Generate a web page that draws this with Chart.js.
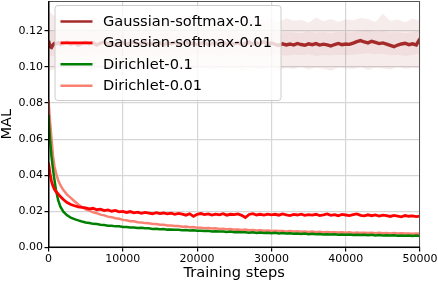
<!DOCTYPE html>
<html>
<head>
<meta charset="utf-8">
<script src="https://cdn.jsdelivr.net/npm/chart.js@4/dist/chart.umd.min.js"></script>
<style>
  html, body { margin: 0; padding: 0; background: #fff; }
  #wrap { width: 438px; height: 282px; }
</style>
</head>
<body>
<div id="wrap"><canvas id="myChart" width="438" height="282"></canvas></div>
<script>
// training steps for the curves (dense at the start)
const steps = [
  0, 200, 400, 600, 800, 1000, 1300, 1600, 2000, 2500, 3000, 3500, 4000, 4500, 5000,
  5500, 6000, 6500, 7000, 7500, 8000, 8500, 9000, 9500, 10000,
  10500, 11000, 11500, 12000, 12500, 13000, 13500, 14000, 14500, 15000,
  15500, 16000, 16500, 17000, 17500, 18000, 18500, 19000, 19500, 20000,
  20500, 21000, 21500, 22000, 22500, 23000, 23500, 24000, 24500, 25000,
  25500, 26000, 26500, 27000, 27500, 28000, 28500, 29000, 29500, 30000,
  30500, 31000, 31500, 32000, 32500, 33000, 33500, 34000, 34500, 35000,
  35500, 36000, 36500, 37000, 37500, 38000, 38500, 39000, 39500, 40000,
  40500, 41000, 41500, 42000, 42500, 43000, 43500, 44000, 44500, 45000,
  45500, 46000, 46500, 47000, 47500, 48000, 48500, 49000, 49500, 50000
]

const gaussSoftmax01 = [
  0.1145, 0.1112, 0.1108, 0.1122, 0.1130, 0.1127, 0.1135, 0.1124, 0.1131, 0.1138, 0.1126, 0.1133, 0.1121, 0.1130, 0.1136,
  0.1128, 0.1134, 0.1122, 0.1131, 0.1139, 0.1127, 0.1133, 0.1120, 0.1129, 0.1135,
  0.1126, 0.1132, 0.1140, 0.1124, 0.1130, 0.1136, 0.1123, 0.1131, 0.1127, 0.1134,
  0.1121, 0.1133, 0.1128, 0.1137, 0.1125, 0.1131, 0.1139, 0.1126, 0.1132, 0.1124,
  0.1130, 0.1136, 0.1122, 0.1129, 0.1134, 0.1127, 0.1138, 0.1125, 0.1131, 0.1128,
  0.1135, 0.1123, 0.1130, 0.1137, 0.1126, 0.1132, 0.1128, 0.1140, 0.1124, 0.1133,
  0.1125, 0.1119, 0.1128, 0.1122, 0.1127, 0.1121, 0.1130, 0.1124, 0.1120, 0.1128,
  0.1123, 0.1129, 0.1121, 0.1126, 0.1122, 0.1116, 0.1124, 0.1130, 0.1123, 0.1127,
  0.1125, 0.1132, 0.1140, 0.1146, 0.1138, 0.1133, 0.1142, 0.1136, 0.1129, 0.1133,
  0.1126, 0.1119, 0.1112, 0.1121, 0.1127, 0.1131, 0.1123, 0.1128, 0.1122, 0.1156
]

const gaussSoftmax001 = [
  0.0470, 0.0410, 0.0368, 0.0340, 0.0322, 0.0310, 0.0296, 0.0282, 0.0266, 0.0249, 0.0238, 0.0231, 0.0225, 0.0222, 0.0219,
  0.0214, 0.0217, 0.0209, 0.0212, 0.0204, 0.0208, 0.0201, 0.0205, 0.0197, 0.0200,
  0.0194, 0.0199, 0.0192, 0.0196, 0.0189, 0.0194, 0.0191, 0.0187, 0.0193, 0.0188,
  0.0191, 0.0186, 0.0190, 0.0184, 0.0189, 0.0185, 0.0179, 0.0187, 0.0172, 0.0184,
  0.0188, 0.0182, 0.0186, 0.0180, 0.0185, 0.0181, 0.0187, 0.0179, 0.0184, 0.0182,
  0.0186, 0.0178, 0.0166, 0.0183, 0.0187, 0.0180, 0.0184, 0.0179, 0.0185, 0.0181,
  0.0184, 0.0179, 0.0186, 0.0181, 0.0177, 0.0183, 0.0180, 0.0185, 0.0178, 0.0182,
  0.0179, 0.0184, 0.0177, 0.0181, 0.0186, 0.0178, 0.0182, 0.0176, 0.0183, 0.0180,
  0.0177, 0.0182, 0.0186, 0.0178, 0.0175, 0.0181, 0.0176, 0.0180, 0.0174, 0.0179,
  0.0176, 0.0172, 0.0178, 0.0174, 0.0170, 0.0177, 0.0173, 0.0175, 0.0171, 0.0174
]

const dirichlet01 = [
  0.0733, 0.0600, 0.0505, 0.0435, 0.0375, 0.0320, 0.0262, 0.0226, 0.0198, 0.0178, 0.0166, 0.0157, 0.0150, 0.0144, 0.0139,
  0.0136, 0.0131, 0.0130, 0.0126, 0.0125, 0.0121, 0.0121, 0.0117, 0.0117, 0.0113,
  0.0114, 0.0111, 0.0111, 0.0108, 0.0109, 0.0106, 0.0107, 0.0103, 0.0104, 0.0101,
  0.0102, 0.0099, 0.0100, 0.0098, 0.0098, 0.0096, 0.0097, 0.0094, 0.0095, 0.0093,
  0.0093, 0.0091, 0.0092, 0.0089, 0.0090, 0.0088, 0.0089, 0.0086, 0.0088, 0.0085,
  0.0086, 0.0084, 0.0085, 0.0082, 0.0084, 0.0081, 0.0083, 0.0080, 0.0082, 0.0079,
  0.0081, 0.0078, 0.0080, 0.0077, 0.0079, 0.0076, 0.0078, 0.0075, 0.0077, 0.0074,
  0.0076, 0.0073, 0.0075, 0.0072, 0.0074, 0.0072, 0.0073, 0.0071, 0.0072, 0.0070,
  0.0072, 0.0069, 0.0071, 0.0069, 0.0070, 0.0068, 0.0070, 0.0067, 0.0069, 0.0067,
  0.0068, 0.0066, 0.0068, 0.0065, 0.0067, 0.0065, 0.0067, 0.0064, 0.0066, 0.0064
]

const dirichlet001 = [
  0.0815, 0.0700, 0.0605, 0.0510, 0.0450, 0.0415, 0.0372, 0.0345, 0.0318, 0.0293, 0.0275, 0.0256, 0.0238, 0.0224, 0.0211,
  0.0204, 0.0195, 0.0190, 0.0182, 0.0178, 0.0171, 0.0168, 0.0162, 0.0159, 0.0153,
  0.0151, 0.0146, 0.0145, 0.0140, 0.0139, 0.0135, 0.0134, 0.0130, 0.0130, 0.0126,
  0.0126, 0.0122, 0.0122, 0.0119, 0.0119, 0.0115, 0.0116, 0.0112, 0.0113, 0.0109,
  0.0110, 0.0107, 0.0108, 0.0105, 0.0106, 0.0103, 0.0104, 0.0101, 0.0102, 0.0099,
  0.0100, 0.0097, 0.0099, 0.0096, 0.0097, 0.0094, 0.0096, 0.0093, 0.0094, 0.0092,
  0.0093, 0.0091, 0.0092, 0.0089, 0.0091, 0.0088, 0.0090, 0.0087, 0.0089, 0.0086,
  0.0088, 0.0085, 0.0087, 0.0085, 0.0086, 0.0084, 0.0085, 0.0083, 0.0085, 0.0082,
  0.0084, 0.0081, 0.0083, 0.0081, 0.0082, 0.0080, 0.0082, 0.0079, 0.0081, 0.0079,
  0.0080, 0.0078, 0.0080, 0.0077, 0.0079, 0.0077, 0.0078, 0.0076, 0.0078, 0.0076
]

// spread of the Gaussian-softmax-0.1 runs (every 1000 steps)
const bandSteps = [
  0, 1000, 2000, 3000, 4000, 5000, 6000, 7000, 8000, 9000, 10000,
  11000, 12000, 13000, 14000, 15000, 16000, 17000, 18000, 19000, 20000,
  21000, 22000, 23000, 24000, 25000, 26000, 27000, 28000, 29000, 30000,
  31000, 32000, 33000, 34000, 35000, 36000, 37000, 38000, 39000, 40000,
  41000, 42000, 43000, 44000, 45000, 46000, 47000, 48000, 49000, 50000
]
const outerHi = [
  0.1310, 0.1275, 0.1262, 0.1248, 0.1268, 0.1255, 0.1281, 0.1250, 0.1263, 0.1244, 0.1272,
  0.1258, 0.1249, 0.1276, 0.1253, 0.1265, 0.1246, 0.1270, 0.1257, 0.1284, 0.1251,
  0.1262, 0.1248, 0.1273, 0.1255, 0.1266, 0.1243, 0.1259, 0.1278, 0.1252, 0.1264,
  0.1247, 0.1269, 0.1256, 0.1261, 0.1245, 0.1274, 0.1253, 0.1266, 0.1250, 0.1262,
  0.1258, 0.1271, 0.1265, 0.1249, 0.1295, 0.1256, 0.1263, 0.1247, 0.1268, 0.1254
]
const outerLo = [
  0.0975, 0.0992, 0.0998, 0.0986, 0.1001, 0.0994, 0.0983, 0.0997, 0.0989, 0.1003, 0.0991,
  0.0985, 0.0999, 0.0993, 0.0980, 0.0996, 0.0988, 0.1002, 0.0990, 0.0984, 0.0997,
  0.0992, 0.0986, 0.1000, 0.0989, 0.0995, 0.0982, 0.0998, 0.0991, 0.0987, 0.0999,
  0.0984, 0.0994, 0.0988, 0.1001, 0.0985, 0.0996, 0.0990, 0.0979, 0.0997, 0.0992,
  0.0989, 0.0998, 0.0983, 0.0995, 0.0991, 0.0986, 0.1000, 0.0988, 0.0994, 0.0990
]
const innerHi = [
  0.1205, 0.1192, 0.1188, 0.1195, 0.1186, 0.1193, 0.1199, 0.1187, 0.1194, 0.1189, 0.1196,
  0.1190, 0.1185, 0.1197, 0.1191, 0.1188, 0.1195, 0.1186, 0.1193, 0.1198, 0.1189,
  0.1194, 0.1187, 0.1192, 0.1199, 0.1188, 0.1193, 0.1186, 0.1196, 0.1190, 0.1195,
  0.1188, 0.1194, 0.1191, 0.1186, 0.1197, 0.1189, 0.1193, 0.1187, 0.1195, 0.1190,
  0.1192, 0.1198, 0.1203, 0.1195, 0.1199, 0.1190, 0.1194, 0.1187, 0.1193, 0.1201
]
const innerLo = [
  0.1055, 0.1066, 0.1070, 0.1063, 0.1068, 0.1061, 0.1067, 0.1072, 0.1064, 0.1069, 0.1062,
  0.1068, 0.1065, 0.1071, 0.1060, 0.1066, 0.1070, 0.1063, 0.1067, 0.1061, 0.1069,
  0.1064, 0.1070, 0.1062, 0.1067, 0.1065, 0.1071, 0.1063, 0.1068, 0.1060, 0.1066,
  0.1069, 0.1062, 0.1067, 0.1064, 0.1070, 0.1061, 0.1066, 0.1063, 0.1068, 0.1065,
  0.1067, 0.1072, 0.1076, 0.1070, 0.1073, 0.1064, 0.1068, 0.1061, 0.1066, 0.1074
]

const seriesNames = ['Gaussian-softmax-0.1', 'Gaussian-softmax-0.01', 'Dirichlet-0.1', 'Dirichlet-0.01']
const seriesColors = ['#a52a2a', '#ff0000', '#008000', '#fa8072']
const seriesWidths = [3.4, 2.8, 2.5, 2.5]
const seriesValues = [gaussSoftmax01, gaussSoftmax001, dirichlet01, dirichlet001]
const yTicks = [0, 0.02, 0.04, 0.06, 0.08, 0.10, 0.12]
const xTicks = [0, 10000, 20000, 30000, 40000, 50000]

const FONT = "'DejaVu Sans', sans-serif"

const pts = (xs, ys) => xs.map((x, i) => ({x: x, y: ys[i]}))

const lineSets = seriesValues.map((vals, i) => ({
  label: seriesNames[i],
  data: pts(steps, vals),
  borderColor: seriesColors[i],
  borderWidth: seriesWidths[i],
  pointRadius: 0,
  fill: false,
  order: 1
}))

// bands: hi lines fill down to the following lo line
const bandSets = [
  {data: pts(bandSteps, outerHi), fill: '+1', backgroundColor: 'rgba(165,42,42,0.09)'},
  {data: pts(bandSteps, outerLo), fill: false},
  {data: pts(bandSteps, innerHi), fill: '+1', backgroundColor: 'rgba(165,42,42,0.07)'},
  {data: pts(bandSteps, innerLo), fill: false}
].map(d => Object.assign(d, {borderWidth: 0, pointRadius: 0, order: 5, label: ''}))

// frame round the plot and legend inside it, like matplotlib
const framePlugin = {
  id: 'frame',
  afterDatasetsDraw(chart) {
    const {ctx, chartArea: a} = chart
    ctx.save()
    ctx.strokeStyle = '#555'
    ctx.lineWidth = 1
    ctx.beginPath()
    ctx.moveTo(a.left, a.top + 0.5); ctx.lineTo(a.right, a.top + 0.5)
    ctx.moveTo(a.right - 0.5, a.top); ctx.lineTo(a.right - 0.5, a.bottom)
    ctx.stroke()
    ctx.strokeStyle = '#000'
    ctx.beginPath()
    ctx.moveTo(a.left + 0.5, a.top); ctx.lineTo(a.left + 0.5, a.bottom)
    ctx.moveTo(a.left, a.bottom - 0.5); ctx.lineTo(a.right, a.bottom - 0.5)
    ctx.stroke()

    const bx = a.left + 6.5, by = a.top + 4.5, bw = 226, bh = 95
    ctx.beginPath()
    ctx.roundRect(bx, by, bw, bh, 3)
    ctx.fillStyle = 'rgba(255,255,255,0.8)'
    ctx.fill()
    ctx.strokeStyle = '#cccccc'
    ctx.stroke()
    ctx.font = '14.6px ' + FONT
    ctx.textBaseline = 'middle'
    seriesNames.forEach((name, i) => {
      const y = by + 16 + i * 21.4
      ctx.strokeStyle = seriesColors[i]
      ctx.lineWidth = 2.6
      ctx.beginPath()
      ctx.moveTo(bx + 5.5, y); ctx.lineTo(bx + 37.5, y)
      ctx.stroke()
      ctx.fillStyle = '#000'
      ctx.fillText(name, bx + 48, y + 0.5)
    })
    ctx.restore()
  }
}

const chart = new Chart(document.getElementById('myChart').getContext('2d'), {
  type: 'line',
  data: {datasets: lineSets.concat(bandSets)},
  options: {
    responsive: false,
    animation: false,
    devicePixelRatio: 1,
    layout: {padding: {top: 1, right: 18, left: 0, bottom: 0}},
    plugins: {legend: {display: false}, tooltip: {enabled: false}},
    scales: {
      x: {
        type: 'linear',
        min: 0,
        max: 50000,
        afterBuildTicks: s => { s.ticks = xTicks.map(v => ({value: v})) },
        afterFit: s => { s.height = 34.5; s.paddingLeft = 0; s.paddingRight = 0 },
        grid: {color: '#d6d6d6', lineWidth: 1.2, tickColor: '#000', tickLength: 4},
        border: {color: '#000', width: 1},
        ticks: {color: '#000', font: {family: FONT, size: 11}, padding: 1, maxRotation: 0,
                callback: v => String(v)},
        title: {display: true, text: 'Training steps', color: '#000',
                font: {family: FONT, size: 14.6, lineHeight: 1}, padding: {top: 0, bottom: 1}}
      },
      y: {
        min: 0,
        max: 0.1365,
        afterBuildTicks: s => { s.ticks = yTicks.map(v => ({value: v})) },
        afterFit: s => { s.width = 48.5; s.paddingTop = 0; s.paddingBottom = 0 },
        grid: {color: '#d6d6d6', lineWidth: 1.2, tickColor: '#000', tickLength: 4},
        border: {color: '#000', width: 1},
        ticks: {color: '#000', font: {family: FONT, size: 11}, padding: 1.5,
                callback: v => v.toFixed(2)},
        title: {display: true, text: 'MAL', color: '#000',
                font: {family: FONT, size: 14.6, lineHeight: 1}, padding: {top: 0, bottom: 0}}
      }
    }
  },
  plugins: [framePlugin]
})
</script>
</body>
</html>
